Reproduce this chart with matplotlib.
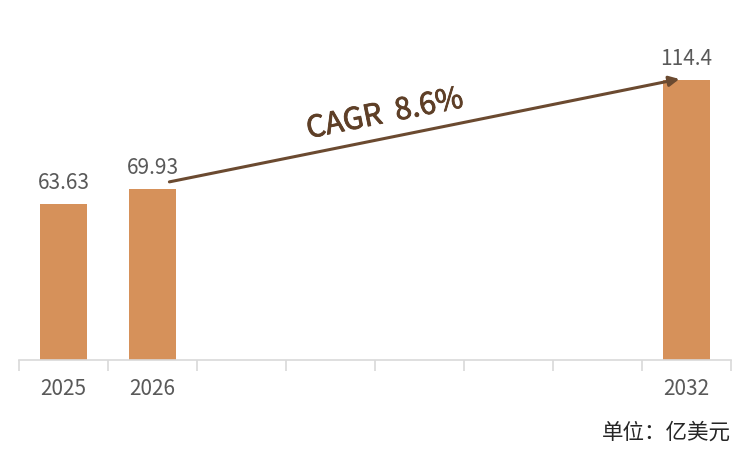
import matplotlib
matplotlib.use("Agg")
import matplotlib.pyplot as plt
import matplotlib.patheffects as pe
from matplotlib.ticker import FixedLocator
import numpy as np

plt.rcParams['font.family'] = ['Noto Sans CJK SC', 'DejaVu Sans']

years = ["2025", "2026", "2027", "2028", "2029", "2030", "2031", "2032"]
values = [63.63, 69.93, None, None, None, None, None, 114.4]
labels = ["63.63", "69.93", "", "", "", "", "", "114.4"]
tick_labels = ["2025", "2026", "", "", "", "", "", "2032"]
cagr_text = "CAGR  8.6%"
unit_text = "单位：亿美元"

bar_color = "#D6915A"
text_color = "#595959"
arrow_color = "#6B4A30"
cagr_color = "#5E3F27"
axis_color = "#D9D9D9"

fig = plt.figure(figsize=(7.5, 4.6), dpi=100)
ax = fig.add_axes([19/750, 1 - 361/460, (731-19)/750, 361/460])

x = np.arange(len(years))
for i, v in enumerate(values):
    if v is not None:
        ax.bar(i, v, width=0.53, color=bar_color, zorder=2)
        ax.annotate(labels[i], (i, v), xytext=(0, 8), textcoords="offset points",
                    ha="center", va="bottom", fontsize=15, color=text_color)

ax.set_xlim(-0.5, len(years) - 0.5)
ax.set_ylim(0, 147.6)

for s in ["top", "right", "left"]:
    ax.spines[s].set_visible(False)
ax.spines["bottom"].set_color(axis_color)
ax.spines["bottom"].set_linewidth(1.2)
ax.set_yticks([])

ax.set_xticks(x)
ax.set_xticklabels(tick_labels, fontsize=15, color=text_color)
ax.tick_params(axis="x", which="major", length=0, pad=12)
ax.xaxis.set_minor_locator(FixedLocator(np.arange(-0.5, len(years), 1.0)))
ax.tick_params(axis="x", which="minor", length=8, color=axis_color, width=1.2)

# CAGR arrow
x0, y0 = 1 + 0.19, values[1] + 2.9
x1, y1 = 7 - 0.08, values[7] + 0.5
ax.annotate("", xy=(x1, y1), xytext=(x0, y0),
            arrowprops=dict(arrowstyle="-|>", color=arrow_color, lw=2.2,
                            mutation_scale=15, shrinkA=0, shrinkB=0))
p0 = ax.transData.transform((x0, y0))
p1 = ax.transData.transform((x1, y1))
ang = np.degrees(np.arctan2(p1[1] - p0[1], p1[0] - p0[0]))
ax.text(3.61, 100.5, cagr_text, rotation=ang, rotation_mode="anchor",
        ha="center", va="center", fontsize=21.5, color=cagr_color,
        path_effects=[pe.withStroke(linewidth=0.6, foreground=cagr_color)])

fig.text(731/750, 1 - 433/460, unit_text, ha="right", va="center",
         fontsize=15.5, color="#262626")

fig.savefig("out.png", dpi=100)
